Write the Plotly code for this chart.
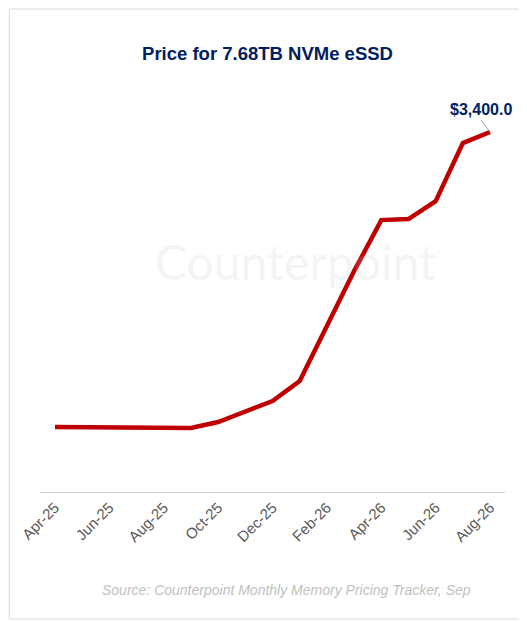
import plotly.graph_objects as go

months = ["Apr-25","May-25","Jun-25","Jul-25","Aug-25","Sep-25","Oct-25","Nov-25","Dec-25",
          "Jan-26","Feb-26","Mar-26","Apr-26","May-26","Jun-26","Jul-26","Aug-26"]
prices = [614, 614, 604, 604, 604, 604, 661, 755, 859, 1048, 1567, 2086, 2568, 2578, 2747, 3295, 3400]
tick_labels = months[::2]

fig = go.Figure(go.Scatter(x=list(range(len(months))), y=prices, mode="lines",
                           line=dict(color="#C00000", width=4.5), hoverinfo="skip"))
fig.update_layout(
    width=519, height=614, paper_bgcolor="white", plot_bgcolor="white",
    margin=dict(l=32, r=22, t=92, b=130), showlegend=False,
    title=dict(text="<b>Price for 7.68TB NVMe eSSD</b>", x=0.5, xanchor="center", y=0.936,
               font=dict(family="Liberation Sans, Arial", size=18.5, color="#002060")),
    xaxis=dict(range=[-0.55, 16.55], tickmode="array", tickvals=list(range(0, 17, 2)),
               ticktext=tick_labels, tickangle=-45, showgrid=False, zeroline=False,
               showline=True, linecolor="#D0D0D0", linewidth=1,
               tickfont=dict(family="Liberation Sans, Arial", size=15, color="#595959")),
    yaxis=dict(range=[0, 3702], visible=False),
)
fig.add_annotation(x=16, y=prices[-1], text="<b>$3,400.0</b>", showarrow=True, arrowhead=0,
                   arrowcolor="#A6A6A6", arrowwidth=1, ax=-9, ay=-12, xanchor="center",
                   yanchor="bottom", font=dict(family="Liberation Sans, Arial", size=16, color="#002060"))
fig.add_annotation(x=0.55, y=0.587, xref="paper", yref="paper", text="Counterpoint", showarrow=False,
                   font=dict(family="Lato, Arial", size=48, color="rgba(200,200,200,0.2)"))
fig.add_annotation(x=0.53, y=-0.276, xref="paper", yref="paper", xanchor="center",
                   text="<i>Source: Counterpoint Monthly Memory Pricing Tracker, Sep</i>", showarrow=False,
                   font=dict(family="Liberation Sans, Arial", size=14, color="#BFBFBF"))
fig.add_shape(type="rect", xref="paper", yref="paper", x0=-0.066, x1=1.04, y0=-0.324, y1=1.232,
              line=dict(color="#D9D9D9", width=1))
fig.write_html("out.html")
